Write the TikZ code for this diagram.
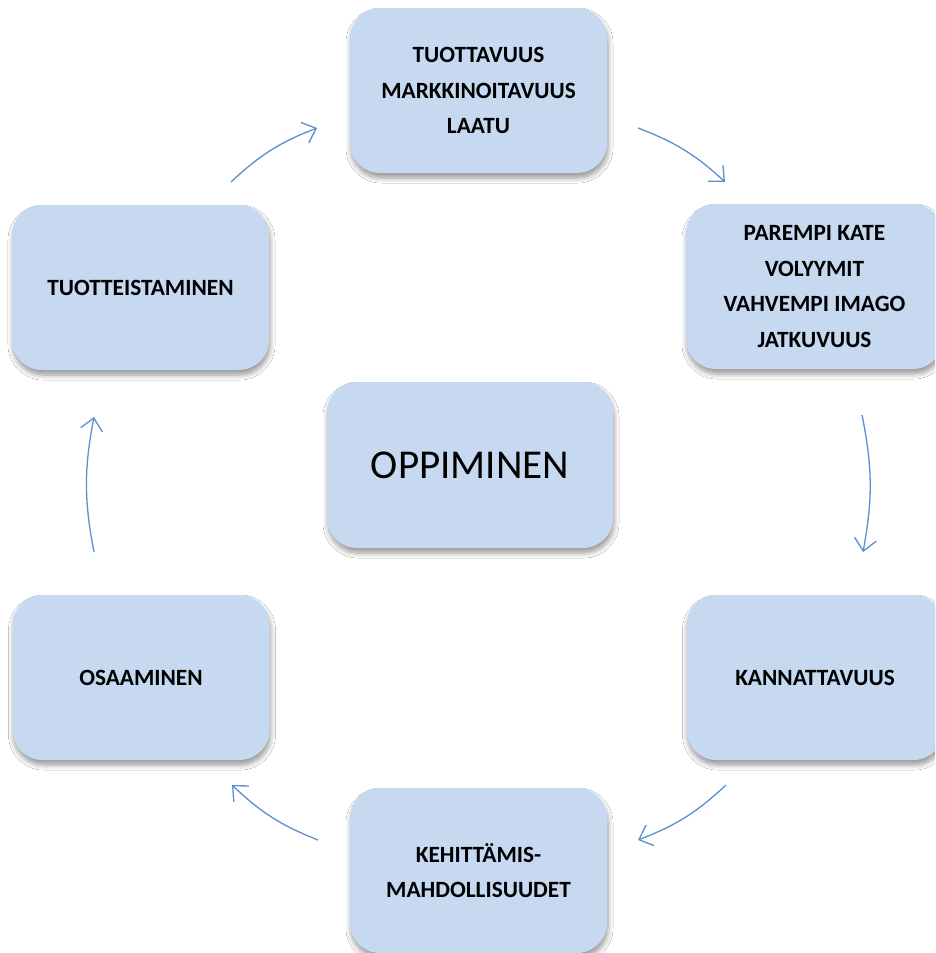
\documentclass[tikz,border=0pt]{standalone}
\usepackage{fontspec}
\setmainfont{Carlito}
\usepackage{tikz}
\usetikzlibrary{arrows.meta,shadows.blur}
\definecolor{boxblue}{RGB}{198,217,241}
\definecolor{arrowblue}{RGB}{91,143,205}
\tikzstyle{box} = [rectangle, rounded corners=30pt, fill=boxblue, align=center, text centered, minimum width=257pt, minimum height=165pt, inner sep=0pt, font=\bfseries\fontsize{23.3}{35.5}\selectfont, blur shadow={shadow xshift=1pt, shadow yshift=-5pt, shadow blur steps=6, shadow blur radius=5pt, shadow opacity=40}]
\tikzstyle{arr} = [draw=arrowblue, line width=1.3pt, -{Straight Barb[length=12pt, width=22pt]}]

\begin{document}
\begin{tikzpicture}[x=1pt, y=-1pt]
    \path[use as bounding box, clip] (0,0) rectangle (935,953);
    \fill[white] (0,0) rectangle (935,953);
    % boxes
    \node[box] (tuot) at (478.5,90.5) {TUOTTAVUUS\\MARKKINOITAVUUS\\LAATU};
    \node[box] (kate) at (814.5,286.5) {PAREMPI KATE\\VOLYYMIT\\VAHVEMPI IMAGO\\JATKUVUUS};
    \node[box] (kann) at (815,677.5) {KANNATTAVUUS};
    \node[box] (keh) at (478.5,870.5) {KEHITTÄMIS-\\MAHDOLLISUUDET};
    \node[box] (osaa) at (141,677.5) {OSAAMINEN};
    \node[box] (tuotte) at (140.5,287.5) {TUOTTEISTAMINEN};
    \node[box, minimum width=286pt, minimum height=166pt, font=\fontsize{41}{48}\selectfont] (opp) at (470,465) {OPPIMINEN};
    % arrow ends
    \coordinate (t1) at (231,182);   \coordinate (h1) at (317,128);
    \coordinate (t2) at (638,128);   \coordinate (h2) at (725,182);
    \coordinate (t3) at (862,415);   \coordinate (h3) at (863,552);
    \coordinate (t4) at (726,785);   \coordinate (h4) at (638,840);
    \coordinate (t5) at (318,840);   \coordinate (h5) at (232,785);
    \coordinate (t6) at (94,552);    \coordinate (h6) at (94,417);
    \foreach \i in {1,...,6}
        \draw[arr] (t\i) to[bend left=11] (h\i);
\end{tikzpicture}
\end{document}
